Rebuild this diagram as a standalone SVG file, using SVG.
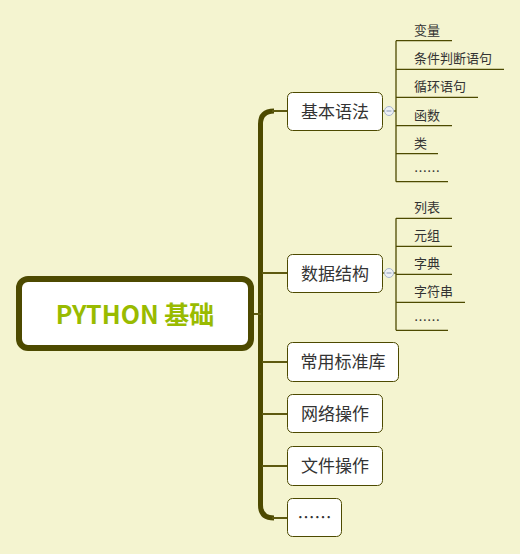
<svg xmlns="http://www.w3.org/2000/svg" width="520" height="554" viewBox="0 0 520 554">
<style>
.bg{fill:#f4f4d0}
.node{fill:#ffffff;stroke:#4d4a00;stroke-width:1}
.t1{font-family:"Noto Sans CJK SC","Noto Sans",sans-serif;font-size:17px;fill:#333333;text-anchor:middle}
.t2{font-family:"Noto Sans CJK SC","Noto Sans",sans-serif;font-size:13px;fill:#333333}
.ul{stroke:#4d4a00;stroke-width:1.3;fill:none}
.br{stroke:#5e5a10;stroke-width:2;fill:none}
.trunk{stroke:#4d4a00;stroke-width:5;fill:none}
.col{fill:#eef1f6;stroke:#a9b6cc;stroke-width:1}
.colm{stroke:#8b9ab5;stroke-width:1}
</style>
<rect class="bg" x="0" y="0" width="520" height="554"/>
<g id="connectors">
<path class="trunk" d="M274 111 Q260.5 111 260.5 124 V505 Q260.5 518 274 518"/>
<line class="br" x1="252" y1="314" x2="261" y2="314"/>
<line class="br" x1="272" y1="111" x2="288" y2="111"/>
<line class="br" x1="262" y1="273" x2="288" y2="273"/>
<line class="br" x1="262" y1="362" x2="288" y2="362"/>
<line class="br" x1="262" y1="414" x2="288" y2="414"/>
<line class="br" x1="262" y1="466" x2="288" y2="466"/>
<line class="br" x1="272" y1="518" x2="288" y2="518"/>
<line class="ul" x1="383" y1="111" x2="396" y2="111"/>
<line class="ul" x1="396" y1="40.7" x2="396" y2="181.7"/>
<line class="ul" x1="396" y1="40.7" x2="452" y2="40.7"/>
<line class="ul" x1="396" y1="69.3" x2="504" y2="69.3"/>
<line class="ul" x1="396" y1="97.3" x2="478" y2="97.3"/>
<line class="ul" x1="396" y1="125.7" x2="452" y2="125.7"/>
<line class="ul" x1="396" y1="153.7" x2="438" y2="153.7"/>
<line class="ul" x1="396" y1="181.7" x2="448" y2="181.7"/>
<line class="ul" x1="383" y1="273" x2="396" y2="273"/>
<line class="ul" x1="396" y1="218.3" x2="396" y2="330.3"/>
<line class="ul" x1="396" y1="218.3" x2="452" y2="218.3"/>
<line class="ul" x1="396" y1="246.3" x2="452" y2="246.3"/>
<line class="ul" x1="396" y1="274.3" x2="452" y2="274.3"/>
<line class="ul" x1="396" y1="302.3" x2="465" y2="302.3"/>
<line class="ul" x1="396" y1="330.3" x2="448" y2="330.3"/>
</g>
<g id="root">
<rect x="19" y="279" width="232" height="69" rx="9" fill="#ffffff" stroke="#4d4a00" stroke-width="6"/>
<text x="135" y="324" font-family="'Noto Sans CJK SC','Noto Sans',sans-serif" font-size="25" font-weight="bold" fill="#99bb00" text-anchor="middle">PYTHON 基础</text>
</g>
<g id="n-jibenyufa">
<rect class="node" x="287.5" y="92.5" width="95" height="38" rx="5"/>
<text class="t1" x="335" y="117.5">基本语法</text>
<circle class="col" cx="389" cy="111" r="4.5"/>
<line class="colm" x1="386.5" y1="111" x2="391.5" y2="111"/>
</g>
<g id="n-bianliang"><text class="t2" x="414" y="34.5">变量</text></g>
<g id="n-tiaojian"><text class="t2" x="414" y="63">条件判断语句</text></g>
<g id="n-xunhuan"><text class="t2" x="414" y="91">循环语句</text></g>
<g id="n-hanshu"><text class="t2" x="414" y="119.5">函数</text></g>
<g id="n-lei"><text class="t2" x="414" y="147.5">类</text></g>
<g id="n-etc1"><text class="t2" x="414" y="176">……</text></g>
<g id="n-shujujiegou">
<rect class="node" x="287.5" y="254.5" width="95" height="38" rx="5"/>
<text class="t1" x="335" y="279.5">数据结构</text>
<circle class="col" cx="389" cy="273" r="4.5"/>
<line class="colm" x1="386.5" y1="273" x2="391.5" y2="273"/>
</g>
<g id="n-liebiao"><text class="t2" x="414" y="212">列表</text></g>
<g id="n-yuanzu"><text class="t2" x="414" y="240">元组</text></g>
<g id="n-zidian"><text class="t2" x="414" y="268">字典</text></g>
<g id="n-zifuchuan"><text class="t2" x="414" y="296">字符串</text></g>
<g id="n-etc2"><text class="t2" x="414" y="324.5">……</text></g>
<g id="n-biaozhunku">
<rect class="node" x="287.5" y="342.5" width="111" height="39" rx="5"/>
<text class="t1" x="343" y="368">常用标准库</text>
</g>
<g id="n-wangluo">
<rect class="node" x="287.5" y="394.5" width="95" height="38" rx="5"/>
<text class="t1" x="335" y="420">网络操作</text>
</g>
<g id="n-wenjian">
<rect class="node" x="287.5" y="446.5" width="95" height="39" rx="5"/>
<text class="t1" x="335" y="472">文件操作</text>
</g>
<g id="n-etc3">
<rect class="node" x="287.5" y="498.5" width="54" height="38" rx="5"/>
<text class="t1" x="314.5" y="524">……</text>
</g>
</svg>
